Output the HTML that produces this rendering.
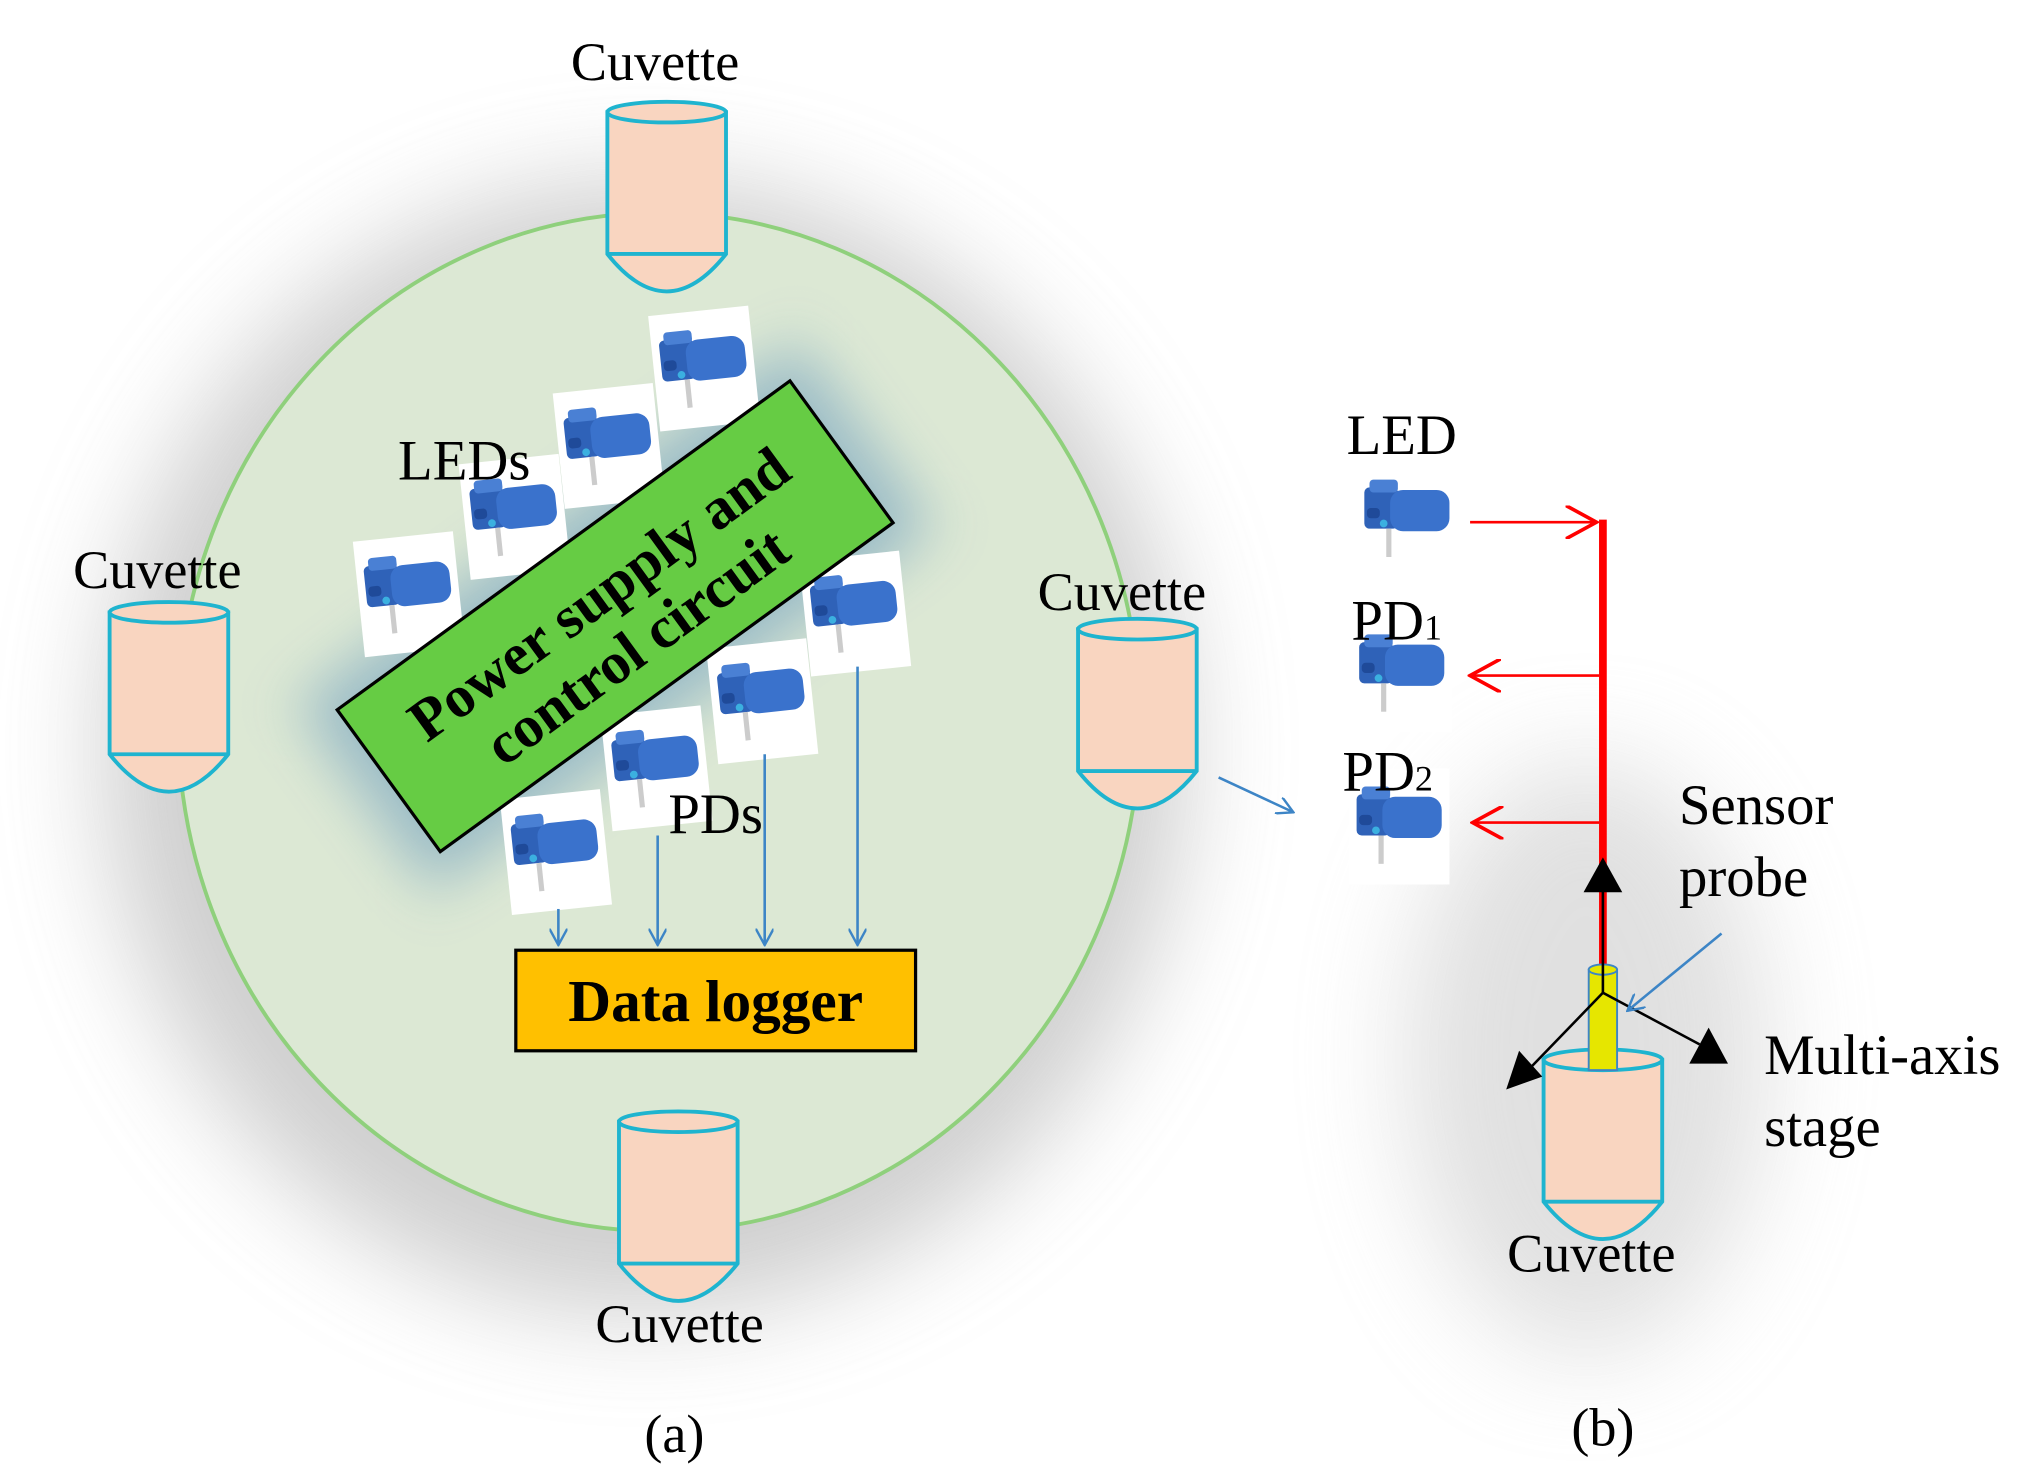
<!DOCTYPE html>
<html><head><meta charset="utf-8"><style>
html,body{margin:0;padding:0;background:#fff;}
svg{display:block;}
text{font-family:"Liberation Serif",serif;}
</style></head><body>
<svg width="2022" height="1484" viewBox="0 0 1568 1151" preserveAspectRatio="none" xmlns="http://www.w3.org/2000/svg">
<defs>
<filter id="blur" x="-50%" y="-50%" width="200%" height="200%"><feGaussianBlur stdDeviation="40"/></filter>
<filter id="blur2" x="-50%" y="-50%" width="200%" height="200%"><feGaussianBlur stdDeviation="22"/></filter>
<g id="led">
<rect x="-38" y="-44" width="78" height="90" fill="#fff"/>
<rect x="-32" y="-24" width="26" height="32" rx="4" fill="#2f62b8"/>
<rect x="-12" y="-22" width="46" height="32" rx="10" fill="#3a72cc"/>
<rect x="-28" y="-30" width="22" height="10" rx="3" fill="#4a80d4"/>
<rect x="-30" y="-8" width="10" height="8" rx="3" fill="#1f4a99"/>
<circle cx="-17" cy="4" r="3" fill="#3bb0e0"/>
<rect x="-15" y="8" width="4" height="22" fill="#ccc"/>
</g>
<g id="cuv">
<path d="M0,0 L0,110 Q46,168 92,110 L92,0 Z" fill="#f9d5c0" stroke="#1fb4cf" stroke-width="3"/>
<ellipse cx="46" cy="0" rx="46" ry="8" fill="#f9d5c0" stroke="#1fb4cf" stroke-width="3"/>
<line x1="0" y1="110" x2="92" y2="110" stroke="#1fb4cf" stroke-width="3"/>
</g>
<marker id="ob" viewBox="0 0 12 12" refX="11" refY="6" markerWidth="14" markerHeight="14" markerUnits="userSpaceOnUse" orient="auto"><path d="M0,0 L11,6 L0,12" fill="none" stroke="#3d85c6" stroke-width="1.6"/></marker>
<marker id="or" viewBox="0 0 12 12" refX="11" refY="6" markerWidth="26" markerHeight="26" markerUnits="userSpaceOnUse" orient="auto"><path d="M0,0 L11,6 L0,12" fill="none" stroke="#f00" stroke-width="1.3"/></marker>
</defs>
<ellipse cx="500" cy="580" rx="420" ry="440" fill="#bbb" filter="url(#blur)" opacity="0.7"/>
<ellipse cx="1230" cy="820" rx="140" ry="230" fill="#ccc" filter="url(#blur)" opacity="0.6"/>
<ellipse cx="511" cy="560" rx="373" ry="395" fill="#dce8d4" stroke="#8fd07c" stroke-width="3"/>
<g transform="translate(477,478) rotate(-36)">
<rect x="-240" y="-90" width="480" height="180" fill="#8fb4c4" filter="url(#blur2)" opacity="0.85"/>
</g>
<use href="#cuv" transform="translate(471,87)"/>
<use href="#cuv" transform="translate(85,475)"/>
<use href="#cuv" transform="translate(836,488)"/>
<use href="#cuv" transform="translate(480,870)"/>
<text x="508" y="62" font-size="42" text-anchor="middle">Cuvette</text>
<text x="122" y="456" font-size="42" text-anchor="middle">Cuvette</text>
<text x="870" y="473" font-size="42" text-anchor="middle">Cuvette</text>
<text x="527" y="1041" font-size="42" text-anchor="middle">Cuvette</text>
<use href="#led" transform="translate(316,460) rotate(-6)"/>
<use href="#led" transform="translate(398,400) rotate(-6)"/>
<use href="#led" transform="translate(471,345) rotate(-6)"/>
<use href="#led" transform="translate(545,285) rotate(-6)"/>
<use href="#led" transform="translate(662,475) rotate(-6)"/>
<use href="#led" transform="translate(590,543) rotate(-6)"/>
<use href="#led" transform="translate(508,595) rotate(-6)"/>
<use href="#led" transform="translate(430,660) rotate(-6)"/>
<g transform="translate(477,478) rotate(-36)">
<rect x="-217" y="-68" width="434" height="136" fill="#66cc44" stroke="#000" stroke-width="2.5"/>
<text x="0" y="-6" font-size="46" font-weight="bold" text-anchor="middle">Power supply and</text>
<text x="0" y="44" font-size="46" font-weight="bold" text-anchor="middle">control circuit</text>
</g>
<text x="360" y="372" font-size="44" text-anchor="middle">LEDs</text>
<text x="555" y="646" font-size="44" text-anchor="middle">PDs</text>
<g stroke="#3d85c6" stroke-width="2" fill="none">
<line x1="433" y1="705" x2="433" y2="733" marker-end="url(#ob)"/>
<line x1="510" y1="648" x2="510" y2="733" marker-end="url(#ob)"/>
<line x1="593" y1="585" x2="593" y2="733" marker-end="url(#ob)"/>
<line x1="665" y1="517" x2="665" y2="733" marker-end="url(#ob)"/>
<line x1="945" y1="603" x2="1003" y2="630" marker-end="url(#ob)"/>
</g>
<rect x="400" y="737" width="310" height="78" fill="#ffc000" stroke="#000" stroke-width="2.5"/>
<text x="555" y="792" font-size="46" font-weight="bold" text-anchor="middle">Data logger</text>
<use href="#led" transform="translate(1090,402)"/>
<use href="#led" transform="translate(1086,522)"/>
<use href="#led" transform="translate(1084,640)"/>
<text x="1087" y="352" font-size="44" text-anchor="middle">LED</text>
<text x="1048" y="496" font-size="44">PD<tspan font-size="28">1</tspan></text>
<text x="1041" y="613" font-size="44">PD<tspan font-size="28">2</tspan></text>
<line x1="1243" y1="403" x2="1243" y2="752" stroke="#f00" stroke-width="6"/>
<g stroke="#f00" stroke-width="2" fill="none">
<line x1="1140" y1="405" x2="1238" y2="405" marker-end="url(#or)"/>
<line x1="1240" y1="524" x2="1140" y2="524" marker-end="url(#or)"/>
<line x1="1240" y1="638" x2="1142" y2="638" marker-end="url(#or)"/>
</g>
<use href="#cuv" transform="translate(1197,822)"/>
<rect x="1232" y="752" width="22" height="78" fill="#e6e600" stroke="#3d85c6" stroke-width="1.5"/>
<ellipse cx="1243" cy="752" rx="11" ry="4" fill="#e6e600" stroke="#3d85c6" stroke-width="1.5"/>
<line x1="1243" y1="690" x2="1243" y2="770" stroke="#000" stroke-width="2"/>
<polygon points="1243,665 1228,692 1258,692" fill="#000"/>
<line x1="1243" y1="770" x2="1185" y2="830" stroke="#000" stroke-width="2"/>
<polygon points="1168,845 1178,815 1196,835" fill="#000"/>
<line x1="1243" y1="770" x2="1318" y2="810" stroke="#000" stroke-width="2"/>
<polygon points="1340,825 1310,825 1325,797" fill="#000"/>
<line x1="1335" y1="724" x2="1262" y2="784" stroke="#3d85c6" stroke-width="2" marker-end="url(#ob)"/>
<text x="1302" y="639" font-size="44">Sensor</text>
<text x="1302" y="695" font-size="44">probe</text>
<text x="1368" y="833" font-size="44">Multi-axis</text>
<text x="1368" y="889" font-size="44">stage</text>
<text x="1234" y="986" font-size="42" text-anchor="middle">Cuvette</text>
<text x="523" y="1126" font-size="42" text-anchor="middle">(a)</text>
<text x="1243" y="1121" font-size="42" text-anchor="middle">(b)</text>
</svg>
</body></html>
